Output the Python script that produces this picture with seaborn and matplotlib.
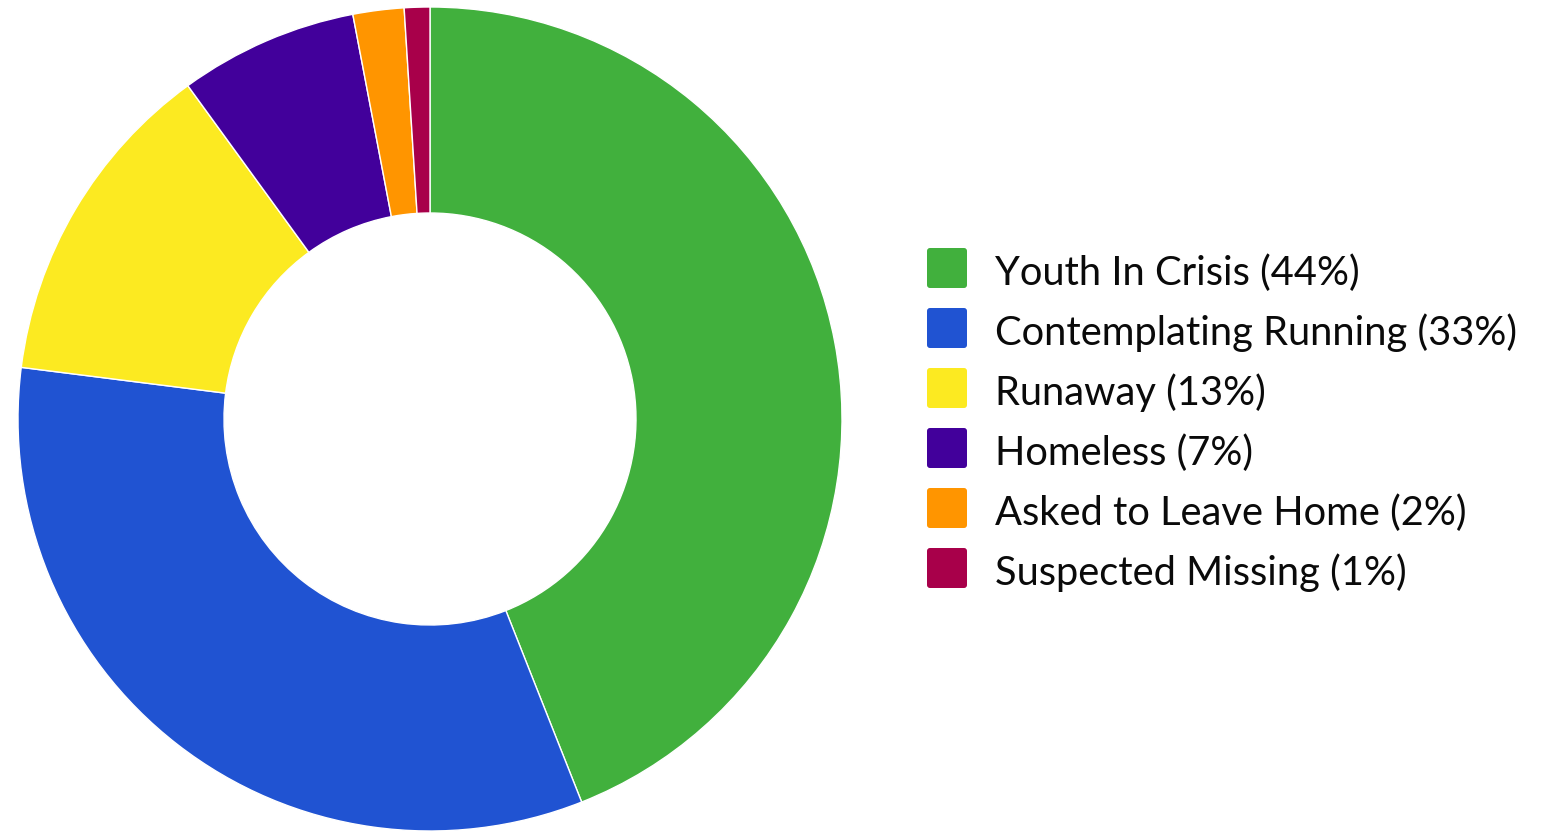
import matplotlib
matplotlib.use("Agg")
import matplotlib.pyplot as plt
from matplotlib.patches import FancyBboxPatch
import seaborn as sns

categories = ["Youth In Crisis", "Contemplating Running", "Runaway", "Homeless",
              "Asked to Leave Home", "Suspected Missing"]
values = [44, 33, 13, 7, 2, 1]
colors = ["#41B03D", "#2053D2", "#FCEA21", "#42009B", "#FF9500", "#A8004A"]

sns.set_theme(style="white")
plt.rcParams['font.family'] = ['Lato', 'DejaVu Sans']

W, H = 1551, 837
fig = plt.figure(figsize=(W / 100, H / 100), dpi=100)
fig.patch.set_facecolor("white")

cx, cy, R = 430, 420, 412
ax = fig.add_axes([(cx - R) / W, (H - cy - R) / H, 2 * R / W, 2 * R / H])
ax.pie(values, colors=colors, startangle=90, counterclock=False, radius=1,
       wedgeprops=dict(width=0.5, edgecolor="white", linewidth=1))
ax.set_xlim(-1, 1)
ax.set_ylim(-1, 1)
ax.set_aspect("equal")
ax.axis("off")

lg = fig.add_axes([0, 0, 1, 1], zorder=-1)
lg.set_xlim(0, W)
lg.set_ylim(H, 0)
lg.axis("off")
total = sum(values)
for i, (cat, v, c) in enumerate(zip(categories, values, colors)):
    yc = 269 + 60 * i
    lg.add_patch(FancyBboxPatch((927 + 3, yc - 20 + 3), 34, 34,
                                boxstyle="round,pad=3", fc=c, ec="none"))
    lg.text(995, yc + 16, f"{cat} ({round(100 * v / total)}%)", fontsize=28.7,
            va="baseline", ha="left", color="#0a0a0a")

fig.savefig("out.png", dpi=100, facecolor="white")
